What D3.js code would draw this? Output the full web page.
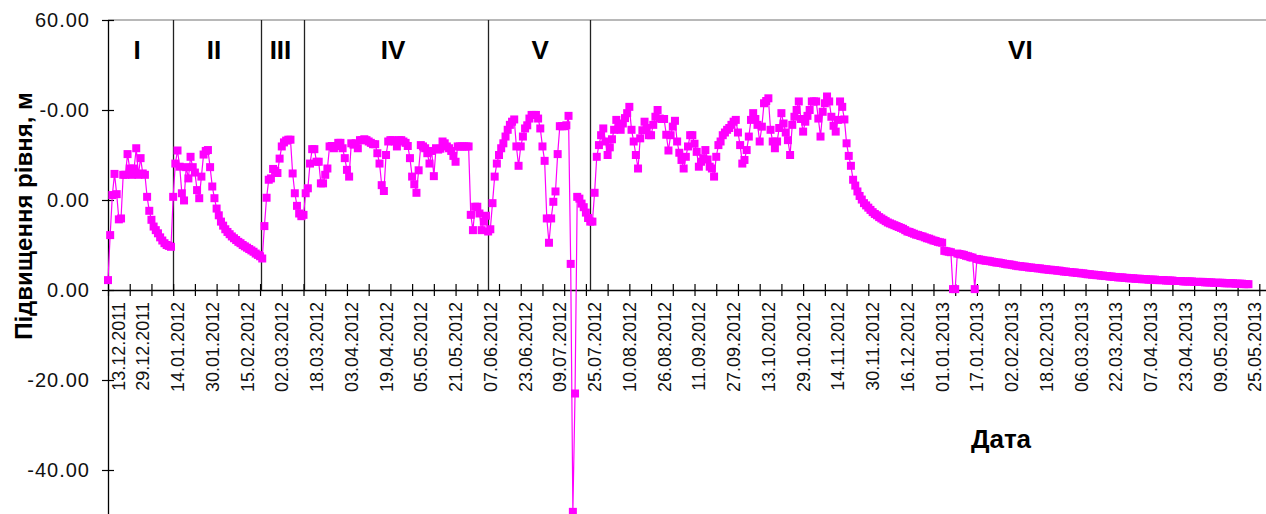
<!DOCTYPE html>
<html><head><meta charset="utf-8">
<script src="https://cdn.jsdelivr.net/npm/d3@7/dist/d3.min.js"></script>
<style>
html,body{margin:0;padding:0;background:#fff;}
svg{display:block;font-family:"Liberation Sans",Arial,sans-serif;}
</style></head>
<body>
<svg id="chart" width="1266" height="514"></svg>
<script>
// ---- data (daily water-level rise, m) ----
const levelsI = [2.2, 12.2, 21.1, 25.8, 21.3, 15.7, 15.9, 25.6, 25.6, 30.2, 27, 25.6, 27, 31.5, 25.6, 29.3, 25.9, 25.6,
  20.7, 17.6, 15.6, 14.1, 13.3, 12.6, 11.7, 11, 10.4, 10, 9.8, 9.6];
const levelsII = [20.7, 28.1, 31, 27.4, 21.5, 19.9, 27.3, 24.8, 29.6, 27.3, 26.1, 22.2, 20.4, 25.2, 30.1, 30.9, 31.1, 27.3, 23, 20.4,
  18.1, 16.6, 15.2, 14.3, 13.5, 12.9, 12.4, 11.9, 11.5, 11.1, 10.7, 10.4, 10.0, 9.7, 9.4, 9.1, 8.8, 8.5, 8.1, 7.8, 7.5];
const levelsIII = [7.0, 14.2, 20.5, 24.5, 24.8, 26.9, 26.5, 26.0, 29.2, 31.9, 32.8, 33.2, 33.4, 33.4, 25.9, 21.5, 18.7, 17.0, 16.4];
const levelsIV = [16.7, 21.5, 22.6, 28.1, 31.3, 31.3, 28.5, 28.5, 23.7, 23.7,
  25.6, 27, 31.9, 32, 31.5, 32, 32.7, 32.7, 31.5, 29.3,
  26.7, 25.2, 32.6, 32.3, 32.6, 31.5, 33.3, 33.3, 33.5, 33.3,
  33.0, 32.7, 32.4, 32.4, 30.4, 28.1, 23.3, 22, 30, 33,
  33.3, 33.3, 33.0, 31.9, 33.3, 33.3, 33.0, 32.7, 32, 29.3,
  25.2, 23.5, 21.6, 26.6, 32.2, 31.9, 31.5, 30.4, 28.1, 30.9,
  25.3, 31.5, 31.2, 31.4, 33.0, 32.6, 31.9, 31.5, 30.9, 29.8,
  28.5, 31.9, 31.9, 31.9, 31.9, 31.9, 31.9, 16.7, 13.3, 18.5,
  18.5, 17, 13.3, 15.2, 16.5];
const levelsV = [13.0, 13.5, 19.3, 25.2, 28.1, 30, 31.5, 32.6, 34.1, 35.6,
  36.7, 37.4, 37.9, 31.9, 27.6, 31.9, 34.1, 35.9, 36.6, 38.1,
  38.9, 38.9, 38.9, 38.1, 35.9, 31.9, 28.7, 15.9, 10.5, 15.9,
  19.6, 21.9, 30.2, 36.4, 36.4, 36.4, 36.6, 38.7, 5.8, -49.3,
  -23, 20.7, 20.3, 19.2, 18.4, 17.2, 16.0];
const levelsVI = [15.2, 15.2, 21.6, 29.6, 32.2, 34.4, 35.9, 33, 30, 31.7,
  33.5, 35.6, 37.8, 36.5, 35.6, 37, 38.2, 39.3, 40.7, 35.6,
  33, 30, 27, 33.7, 35.5, 37.4, 36, 34.4, 34.4, 36.7,
  38.5, 40, 38.1, 38, 38, 34.5, 31, 34.4, 36.3, 37.6,
  33, 30.5, 28.9, 27, 29.6, 31.9, 34.4, 34.4, 32.5, 30.7,
  27.4, 28.5, 29.3, 31.1, 29, 27.4, 27, 25.2, 29.6, 32.2,
  33, 34.4, 35, 35.6, 36, 36.7, 37.4, 37.8, 35, 32.2,
  28.1, 28.9, 31.1, 34.1, 37.8, 39.3, 38, 36.7, 33, 36.3,
  41.5, 42, 42.6, 35.6, 33, 31.5, 33, 36, 39.3, 37,
  35, 33.3, 30, 36.7, 38.5, 40, 41.9, 38, 35.2, 37.4,
  38.7, 40, 41.9, 41.9, 41.9, 38.1, 34.1, 39.6, 41.5, 43,
  41.9, 38.5, 36.5, 35.2, 37.8, 41.9, 40.7, 37.9, 32.6, 29.8,
  27.6,
  24.5, 23.2, 21.9, 20.9, 20.1, 19.3, 18.8, 18.3, 17.8, 17.3,
  16.9, 16.6, 16.2, 15.9, 15.6, 15.3, 15.0, 14.8, 14.6, 14.4,
  14.2, 14.0, 13.8, 13.6, 13.3, 13.0, 12.9, 12.7, 12.5, 12.3,
  12.2, 12.0, 11.9, 11.7, 11.5, 11.4, 11.2, 11.0, 10.9, 10.7,
  10.6, 10.5, 8.7, 8.6, 8.5, 8.4, 0.2, 0.2, 8.1, 8.0,
  7.9, 7.8, 7.6, 7.5, 7.3, 7.2, 0.2, 6.9, 6.8, 6.7,
  6.6, 6.5, 6.5, 6.4, 6.3, 6.2, 6.1, 6.1, 6.0, 5.9,
  5.8, 5.7, 5.7, 5.6, 5.5, 5.4, 5.3, 5.3, 5.2, 5.2,
  5.1, 5.0, 5.0, 4.9, 4.9, 4.8, 4.8, 4.7, 4.6, 4.6,
  4.5, 4.5, 4.4, 4.4, 4.3, 4.3, 4.2, 4.1, 4.1, 4.0,
  4.0, 3.9, 3.9, 3.8, 3.8, 3.7, 3.7, 3.6, 3.5, 3.5,
  3.4, 3.4, 3.3, 3.3, 3.2, 3.2, 3.1, 3.1, 3.0, 3.0,
  2.9, 2.9, 2.8, 2.8, 2.8, 2.7, 2.7, 2.6, 2.6, 2.6,
  2.5, 2.5, 2.5, 2.4, 2.4, 2.4, 2.3, 2.3, 2.3, 2.3,
  2.2, 2.2, 2.2, 2.2, 2.1, 2.1, 2.1, 2.1, 2.0, 2.0,
  2.0, 2.0, 1.9, 1.9, 1.9, 1.9, 1.9, 1.8, 1.8, 1.8,
  1.8, 1.8, 1.7, 1.7, 1.7, 1.7, 1.6, 1.6, 1.6, 1.6,
  1.6, 1.5, 1.5, 1.5, 1.5, 1.5, 1.4, 1.4, 1.4, 1.4,
  1.3, 1.3, 1.3];

const sectionNames = ["I", "II", "III", "IV", "V", "VI"];
const sectionLabelIndex = [13.4, 48.8, 79.4, 131.2, 198.9, 420];
const sectionDividers = [30, 70.5, 90, 175, 222];

const dateLabels = ["13.12.2011","29.12.2011","14.01.2012","30.01.2012","15.02.2012","02.03.2012","18.03.2012",
  "03.04.2012","19.04.2012","05.05.2012","21.05.2012","07.06.2012","23.06.2012","09.07.2012","25.07.2012",
  "10.08.2012","26.08.2012","11.09.2012","27.09.2012","13.10.2012","29.10.2012","14.11.2012","30.11.2012",
  "16.12.2012","01.01.2013","17.01.2013","02.02.2013","18.02.2013","06.03.2013","22.03.2013","07.04.2013",
  "23.04.2013","09.05.2013","25.05.2013"];
const labelEvery = 16;   // categories between date labels
const tickEvery = 10;    // categories between tick marks
const categoryCount = 534;

const yTickValues = [60, 40, 20, 0, -20, -40];
const yTickLabels = ["60.00", "-0.00", "0.00", "0.00", "-20.00", "-40.00"];

const yTitle = "Підвищення рівня, м";
const xTitle = "Дата";

// ---- chart ----
const levels = [].concat(levelsI, levelsII, levelsIII, levelsIV, levelsV, levelsVI);
const svg = d3.select("#chart");
const x = d3.scaleLinear().domain([0, categoryCount]).range([108, 1268]);
const y = d3.scaleLinear().domain([-50, 60]).range([515, 20]);
const MAG = "#ff00ff";

// top border
svg.append("line").attr("x1", x(0)).attr("x2", 1266).attr("y1", y(60)).attr("y2", y(60))
  .attr("stroke", "#a0a0a0").attr("stroke-width", 1.5);

// section dividers
svg.selectAll("line.div").data(sectionDividers).join("line").attr("class", "div")
  .attr("x1", d => Math.round(x(d)) + 0.5).attr("x2", d => Math.round(x(d)) + 0.5)
  .attr("y1", y(60)).attr("y2", y(0))
  .attr("stroke", "#222").attr("stroke-width", 1.3);

// section labels
svg.selectAll("text.sec").data(sectionNames).join("text").attr("class", "sec")
  .attr("x", (d, i) => x(sectionLabelIndex[i])).attr("y", 59)
  .attr("text-anchor", "middle").attr("font-size", 26).attr("font-weight", "bold").attr("fill", "#000")
  .text(d => d);

// x axis (crossing ticks)
const xAxis = d3.axisBottom(x).tickValues(d3.range(0, categoryCount + 1, tickEvery)).tickFormat("").tickSizeOuter(0);
const gx = svg.append("g").attr("transform", `translate(0,${y(0)})`).call(xAxis);
gx.select(".domain").attr("stroke", "#000").attr("stroke-width", 1.3);
gx.selectAll(".tick line").attr("y1", -6).attr("y2", 6).attr("stroke", "#000").attr("stroke-width", 1.2);

// date labels
svg.selectAll("text.date").data(dateLabels).join("text").attr("class", "date")
  .attr("transform", (d, k) => {
    const cx = Math.max(x(k * labelEvery), x(0) + 10);
    return `translate(${cx + 6.5},302) rotate(-90)`;
  })
  .attr("text-anchor", "end").attr("font-size", 18).attr("fill", "#111")
  .text(d => d);

// y axis
const yAxis = d3.axisLeft(y).tickValues(yTickValues).tickFormat((d, i) => yTickLabels[i]).tickSizeOuter(0);
const gy = svg.append("g").attr("transform", `translate(${x(0)},0)`).call(yAxis);
gy.select(".domain").attr("stroke", "#000").attr("stroke-width", 1.3);
gy.selectAll(".tick line").attr("x1", 6).attr("x2", -6).attr("stroke", "#000").attr("stroke-width", 1.2);
gy.selectAll(".tick text").attr("x", -18).attr("font-size", 20).attr("letter-spacing", "1px")
  .attr("fill", "#111").attr("font-family", "Liberation Sans, Arial, sans-serif");

// titles
svg.append("text").attr("transform", `translate(32,216) rotate(-90)`).attr("text-anchor", "middle")
  .attr("font-size", 24).attr("font-weight", "bold").attr("fill", "#000").text(yTitle);
svg.append("text").attr("x", 1001).attr("y", 448).attr("text-anchor", "middle")
  .attr("font-size", 26).attr("font-weight", "bold").attr("fill", "#000").text(xTitle);

// data line + markers
const line = d3.line().x((d, i) => x(i)).y(d => y(d));
svg.append("path").datum(levels).attr("d", line).attr("fill", "none").attr("stroke", MAG).attr("stroke-width", 1.2);
svg.selectAll("rect.pt").data(levels).join("rect").attr("class", "pt")
  .attr("x", (d, i) => x(i) - 4).attr("y", d => y(d) - 4)
  .attr("width", 8).attr("height", 8).attr("fill", MAG);
</script>
</body></html>
